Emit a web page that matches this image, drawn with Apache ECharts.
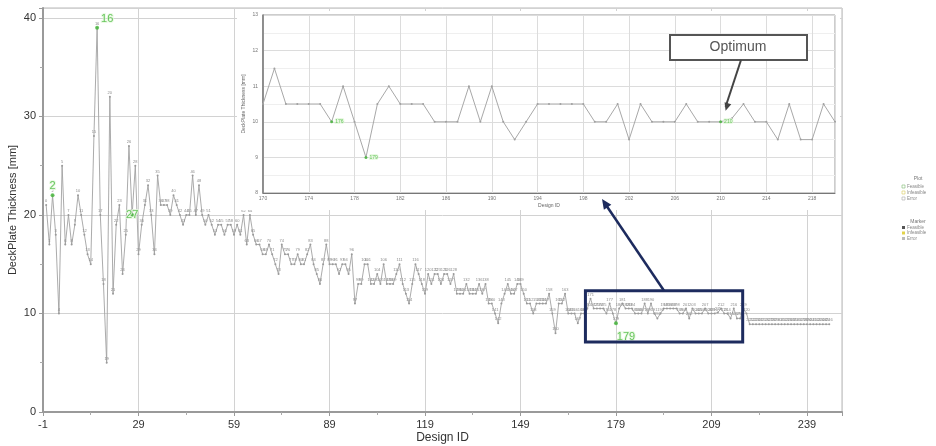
<!DOCTYPE html>
<html><head><meta charset="utf-8">
<script src="https://cdn.jsdelivr.net/npm/echarts@6/dist/echarts.min.js"></script>
<style>html,body{margin:0;padding:0;background:#fff}#c{width:936px;height:446px}</style>
</head><body><div id="c"></div>
<script>
// ---- data ----
const thickness = [
  21,17,22,18,10,25,17,20,17,19,
  22,20,18,16,15,28,39,20,13,5,
  32,12,19,21,14,18,27,20,25,16,
  19,21,23,20,16,24,21,21,21,20,
  22,21,20,19,20,20,24,20,23,20,
  19,20,19,18,19,19,18,19,19,18,
  19,18,20,17,20,18,17,17,16,16,
  17,16,15,14,17,16,16,15,15,16,
  15,15,16,17,15,14,13,15,17,15,
  15,15,14,15,15,14,16,11,13,13,
  15,15,13,13,14,13,15,13,13,13,
  14,15,13,12,11,13,15,14,13,12,
  14,13,14,14,13,14,14,13,14,12,
  12,12,13,12,12,12,13,12,13,11,
  11,10,9,11,12,13,12,12,13,13,
  12,11,11,10,11,11,11,11,12,10,
  8,11,11,12,10,10,10,9,10,10,
  10.5,11.5,10.5,10.5,10.5,10.5,10,11,10,9,
  10.5,11,10.5,10.5,10.5,10,10,10,11,10,
  11,10,9.5,10,10.5,10.5,10.5,10.5,10.5,10,
  10,10.5,9.5,10.5,10,10,10,10.5,10,10,
  10,10.1,10.5,10,10,9.5,10.5,9.5,9.5,10.5,
  10,8.9,8.9,8.9,8.9,8.9,8.9,8.9,8.9,8.9,
  8.9,8.9,8.9,8.9,8.9,8.9,8.9,8.9,8.9,8.9,
  8.9,8.9,8.9,8.9,8.9,8.9,8.9
];
const designIds = thickness.map((_, i) => i);          // design IDs 0..246
const bestIds = [2, 16, 27, 179];                       // green-labelled designs (main)
const bestLabelPos = ['top', 'right', 'inside', 'bottom'];
const bestLabelOffset = [[0, 0], [0, -9], [0, 0], [10, 4]];
const insetBestIds = [176, 179, 210];                   // green-labelled designs (inset)
const insetRange = [170, 220];                          // design IDs shown in the inset
const optimumId = 210;
const mainYRange = [0, 41];
const insetYRange = [8, 13];
const legendPlot = ['Feasible', 'Infeasible', 'Error'];
const legendMarker = ['Feasible', 'Infeasible', 'Error'];

// main x axis uses internal value = ID + 1 so that ticks fall on -1, 29, 59 ...
const mainData = designIds.map((id, i) => [id + 1, thickness[i]]);
const bestData = bestIds.map((id, k) => ({
  value: [id + 1, thickness[designIds.indexOf(id)], id],
  label: { position: bestLabelPos[k], offset: bestLabelOffset[k] }
}));
// inset x axis uses internal value = ID + 2 so that ticks fall on 170, 174, ...
const insetData = designIds.filter(id => id >= insetRange[0] && id <= insetRange[1])
  .map(id => [id + 2, thickness[designIds.indexOf(id)]]);
const insetBestData = insetBestIds.map(id => [id + 2, thickness[designIds.indexOf(id)], id]);

const chart = echarts.init(document.getElementById('c'));
const FONT = 'Liberation Sans, Arial, sans-serif';
const green = '#45b83a';

chart.setOption({
  animation: false,
  textStyle: { fontFamily: FONT },
  grid: [
    { left: 43, top: 8, right: 94, bottom: 34, show: true, borderColor: '#b8b8b8', borderWidth: 1, backgroundColor: '#fff', outerBoundsMode: 'none', containLabel: false },
    { left: 263, top: 15, width: 572, height: 178, show: true, borderColor: '#9a9a9a', borderWidth: 1, backgroundColor: '#fff', z: 5, outerBoundsMode: 'none', containLabel: false }
  ],
  xAxis: [
    {
      gridIndex: 0, type: 'value', min: 0, max: 251, interval: 30,
      axisLine: { show: true, onZero: false, lineStyle: { color: '#9a9a9a', width: 2 } },
      axisTick: { show: true, length: 4, lineStyle: { color: '#9a9a9a' } },
      minorTick: { show: true, splitNumber: 2, length: 3, lineStyle: { color: '#aaa' } },
      axisLabel: { formatter: v => String(v - 1), color: '#333', fontSize: 11, margin: 7, showMaxLabel: false },
      splitLine: { show: true, lineStyle: { color: '#d2d2d2' } },
      name: 'Design ID', nameLocation: 'middle', nameGap: 20, nameMoveOverlap: false,
      nameTextStyle: { fontSize: 12, color: '#333' }
    },
    {
      gridIndex: 1, type: 'value', min: insetRange[0] + 2, max: insetRange[1] + 2, interval: 4, z: 6,
      axisLine: { show: true, onZero: false, lineStyle: { color: '#777', width: 1 } },
      axisTick: { show: false },
      axisLabel: { formatter: v => String(v - 2), color: '#777', fontSize: 5, margin: 3, showMaxLabel: false },
      splitLine: { show: true, lineStyle: { color: '#dcdcdc' } },
      name: 'Design ID', nameLocation: 'middle', nameGap: 10, nameMoveOverlap: false,
      nameTextStyle: { fontSize: 5, color: '#666' }
    }
  ],
  yAxis: [
    {
      gridIndex: 0, type: 'value', min: mainYRange[0], max: mainYRange[1], interval: 10,
      axisLine: { show: true, onZero: false, lineStyle: { color: '#9a9a9a', width: 2 } },
      axisTick: { show: true, length: 4, lineStyle: { color: '#9a9a9a' } },
      minorTick: { show: true, splitNumber: 2, length: 3, lineStyle: { color: '#aaa' } },
      axisLabel: { color: '#333', fontSize: 11, margin: 7, showMaxLabel: false },
      splitLine: { show: true, lineStyle: { color: '#d2d2d2' } },
      name: 'DeckPlate Thickness [mm]', nameLocation: 'middle', nameGap: 25, nameRotate: 90, nameMoveOverlap: false,
      nameTextStyle: { fontSize: 11, color: '#333' }
    },
    {
      gridIndex: 1, type: 'value', min: insetYRange[0], max: insetYRange[1], interval: 1, z: 6,
      axisLine: { show: true, onZero: false, lineStyle: { color: '#777', width: 1.5 } },
      axisTick: { show: false },
      axisLabel: { color: '#777', fontSize: 5, margin: 5 },
      splitLine: { show: true, lineStyle: { color: '#dcdcdc' } },
      minorSplitLine: { show: true, lineStyle: { color: '#efefef' } },
      minorTick: { show: false, splitNumber: 2 },
      name: 'DeckPlate Thickness [mm]', nameLocation: 'middle', nameGap: 17, nameRotate: 90, nameMoveOverlap: false,
      nameTextStyle: { fontSize: 5, color: '#666' }
    }
  ],
  series: [
    {
      type: 'line', xAxisIndex: 0, yAxisIndex: 0, data: mainData, z: 2,
      symbol: 'circle', symbolSize: 2, showSymbol: true,
      lineStyle: { color: '#a2a2a2', width: 0.9 }, itemStyle: { color: '#9a9a9a' },
      label: { show: true, position: 'top', distance: 1, fontSize: 4, color: '#8a8a8a', formatter: p => String(p.data[0] - 1) },
      emphasis: { disabled: true }
    },
    {
      type: 'scatter', xAxisIndex: 0, yAxisIndex: 0, data: bestData, z: 3,
      symbol: 'circle', symbolSize: 4, itemStyle: { color: green },
      label: { show: true, distance: 2, fontSize: 11, color: green,
        textBorderColor: '#e3f7dc', textBorderWidth: 2, formatter: p => String(p.data.value[2]) },
      emphasis: { disabled: true }
    },
    {
      type: 'line', xAxisIndex: 1, yAxisIndex: 1, data: insetData, z: 7,
      symbol: 'circle', symbolSize: 2, showSymbol: true,
      lineStyle: { color: '#a8a8a8', width: 1 }, itemStyle: { color: '#a0a0a0' },
      emphasis: { disabled: true }
    },
    {
      type: 'scatter', xAxisIndex: 1, yAxisIndex: 1, data: insetBestData, z: 8,
      symbol: 'circle', symbolSize: 3, itemStyle: { color: green },
      label: { show: true, position: 'right', distance: 2, fontSize: 5, color: green,
        textBorderColor: '#e3f7dc', textBorderWidth: 2, formatter: p => String(p.data[2]) },
      emphasis: { disabled: true }
    }
  ]
});

function arrowHead(x1, y1, x2, y2, len, wid) {
  const a = Math.atan2(y2 - y1, x2 - x1);
  const bx = x2 - len * Math.cos(a), by = y2 - len * Math.sin(a);
  const px = -Math.sin(a) * wid, py = Math.cos(a) * wid;
  return [[x2, y2], [bx + px, by + py], [bx - px, by - py]];
}

// annotation positions derived from the scales
const boxTL = chart.convertToPixel({ gridIndex: 0 }, [insetRange[0] - 0.6 + 1, 12.3]);
const boxBR = chart.convertToPixel({ gridIndex: 0 }, [insetRange[1] - 1.2 + 1, 7.1]);
const boxTopMid = [(boxTL[0] + boxBR[0]) / 2, boxTL[1]];
const blueTip = [602, 199];
const optPt = chart.convertToPixel({ gridIndex: 1 }, [optimumId + 2, thickness[designIds.indexOf(optimumId)]]);
const optTip = [optPt[0] + 5, optPt[1] - 11];
const optStart = [741, 60];

const legendItems = [];
const lx = 902;
legendItems.push({ type: 'text', x: 918, y: 179, style: { text: 'Plot', fontSize: 5, fill: '#777', align: 'center', verticalAlign: 'middle', fontFamily: FONT } });
legendPlot.forEach((t, i) => {
  legendItems.push({ type: 'rect', shape: { x: lx, y: 185 + i * 6, width: 3, height: 3 }, style: { fill: '#fff', stroke: ['#7dbb6e', '#d8c95a', '#aaa'][i], lineWidth: 0.6 } });
  legendItems.push({ type: 'text', x: lx + 5, y: 186.5 + i * 6, style: { text: t, fontSize: 4.5, fill: '#888', verticalAlign: 'middle', fontFamily: FONT } });
});
legendItems.push({ type: 'text', x: 918, y: 222, style: { text: 'Marker', fontSize: 5, fill: '#777', align: 'center', verticalAlign: 'middle', fontFamily: FONT } });
legendMarker.forEach((t, i) => {
  legendItems.push({ type: 'rect', shape: { x: lx, y: 226 + i * 5.5, width: 3, height: 3 }, style: { fill: ['#555', '#e2d34a', '#bbb'][i] } });
  legendItems.push({ type: 'text', x: lx + 5, y: 227.5 + i * 5.5, style: { text: t, fontSize: 4.5, fill: '#888', verticalAlign: 'middle', fontFamily: FONT } });
});

chart.setOption({
  graphic: [
    { type: 'rect', z: 4, silent: true, shape: { x: 237, y: 11, width: 603, height: 199 }, style: { fill: '#fff' } },
    { type: 'rect', z: 20, shape: { x: boxTL[0], y: boxTL[1], width: boxBR[0] - boxTL[0], height: boxBR[1] - boxTL[1] },
      style: { fill: 'none', stroke: '#1d2b5e', lineWidth: 3 } },
    { type: 'line', z: 20, shape: { x1: boxTopMid[0], y1: boxTopMid[1], x2: blueTip[0] + 4, y2: blueTip[1] + 6 },
      style: { stroke: '#1d2b5e', lineWidth: 2.5 } },
    { type: 'polygon', z: 20, shape: { points: arrowHead(boxTopMid[0], boxTopMid[1], blueTip[0], blueTip[1], 10, 4.5) },
      style: { fill: '#1d2b5e' } },
    { type: 'rect', z: 20, shape: { x: 670, y: 35, width: 137, height: 25 }, style: { fill: '#fff', stroke: '#555', lineWidth: 2 } },
    { type: 'text', z: 21, x: 738, y: 47.5, style: { text: 'Optimum', fontSize: 14, fill: '#555', align: 'center', verticalAlign: 'middle', fontFamily: FONT } },
    { type: 'line', z: 20, shape: { x1: optStart[0], y1: optStart[1], x2: optTip[0], y2: optTip[1] - 4 }, style: { stroke: '#444', lineWidth: 2 } },
    { type: 'polygon', z: 20, shape: { points: arrowHead(optStart[0], optStart[1], optTip[0], optTip[1], 8, 3.5) }, style: { fill: '#444' } }
  ].concat(legendItems)
});
</script>
</body></html>
